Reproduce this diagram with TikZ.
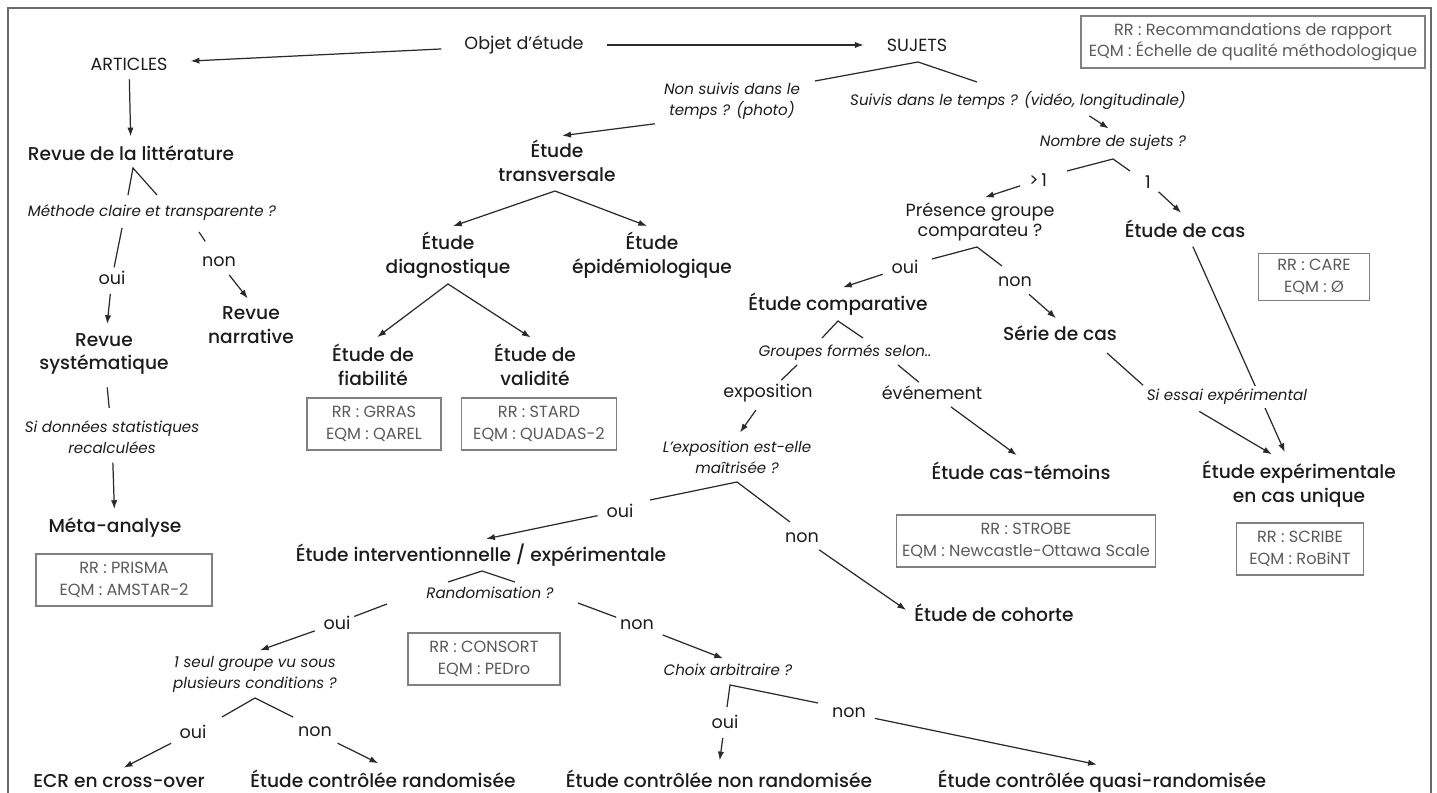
\documentclass[tikz,border=0pt]{standalone}
\usepackage{fontspec}
\setmainfont{Poppins}[BoldFont={Poppins Medium}]
\usetikzlibrary{arrows.meta}

\definecolor{ink}{HTML}{1C1C1C}
\definecolor{wire}{HTML}{2A2A2A}
\definecolor{boxline}{HTML}{808080}
\definecolor{boxtext}{HTML}{5A5A5A}
\definecolor{framegray}{HTML}{6A6A6A}

\tikzset{
  etude/.style={font=\fontsize{10.6}{13.6}\selectfont\bfseries, text=ink, align=center, inner sep=2pt},
  lab/.style={font=\fontsize{10}{11.4}\selectfont, text=ink, align=center, inner sep=2pt},
  quest/.style={font=\fontsize{8.6}{12}\selectfont\itshape, text=ink, align=center, inner sep=2pt},
  rrbox/.style={draw=boxline, line width=0.8pt, text=boxtext, font=\fontsize{9.2}{12.4}\selectfont, align=center, minimum height=1.04cm},
  ln/.style={draw=wire, line width=0.7pt},
  arr/.style={ln, -{Latex[length=5pt,width=3.6pt]}, shorten <=3pt, shorten >=3pt},
  biarr/.style={ln, {Latex[length=5pt,width=3.6pt]}-{Latex[length=5pt,width=3.6pt]}, shorten <=3pt, shorten >=3pt},
  gapln/.style={ln, shorten <=5pt, shorten >=5pt},
}

\begin{document}
\begin{tikzpicture}[x=0.02cm, y=-0.02cm]
  \useasboundingbox (0,0) rectangle (1437,793);
  \draw[framegray, line width=1.3pt] (8,793) -- (8,8) -- (1431,8) -- (1431,793);

  \node[lab, inner xsep=10pt] (obj) at (524,45) {Objet d'étude};
  \node[lab, inner xsep=10pt] (art) at (129,64) {ARTICLES};
  \node[lab, inner xsep=10pt] (suj) at (917,45) {SUJETS};
  \node[rrbox, minimum width=6.88cm] (legend) at (1253,42) {RR : Recommandations de rapport\\EQM : Échelle de qualité méthodologique};

  \node[etude] (lit) at (131,153) {Revue de la littérature};
  \node[quest] (meth) at (152,213) {Méthode claire et transparente ?};
  \node[lab] (oui1) at (112,278) {oui};
  \node[lab] (non1) at (219,262) {non};
  \node[etude] (revsys) at (104,354) {Revue\\systématique};
  \node[etude] (revnar) at (251,325) {Revue\\narrative};
  \node[quest] (sidon) at (112,437) {Si données statistiques\\recalculées};
  \node[etude] (meta) at (115,528) {Méta-analyse};
  \node[rrbox, minimum width=3.52cm] (prisma) at (124,580) {RR : PRISMA\\EQM : AMSTAR-2};

  \node[quest] (nonsuiv) at (732,101) {Non suivis dans le\\temps ? (photo)};
  \node[etude] (transv) at (557,161) {Étude\\transversale};
  \node[etude] (diag) at (448,255) {Étude\\diagnostique};
  \node[etude] (epid) at (652,255) {Étude\\épidémiologique};
  \node[etude] (fiab) at (373,365) {Étude de\\fiabilité};
  \node[etude] (valid) at (535,365) {Étude de\\validité};
  \node[rrbox, minimum width=2.68cm] (grras) at (374,424) {RR : GRRAS\\EQM : QAREL};
  \node[rrbox, minimum width=3.1cm] (stard) at (539,424) {RR : STARD\\EQM : QUADAS-2};

  \node[quest] (suiv) at (1018,100) {Suivis dans le temps ? (vidéo, longitudinale)};
  \node[quest] (nbsuj) at (1113,143) {Nombre de sujets ?};
  \node[lab] (gt1) at (1038,180) {>\,1};
  \node[lab] (eq1) at (1148,182) {1};
  \node[etude] (cas) at (1185,229) {Étude de cas};
  \node[rrbox, minimum width=2.22cm, minimum height=0.9cm] (care) at (1314,277) {RR : CARE\\EQM : Ø};
  \node[lab] (pgc) at (980,222) {Présence groupe\\comparateu ?};
  \node[lab] (oui2) at (905,267) {oui};
  \node[lab] (non2) at (1015,282) {non};
  \node[etude] (comp) at (838,304) {Étude comparative};
  \node[etude] (serie) at (1060,333) {Série de cas};
  \node[quest] (grp) at (845,353) {Groupes formés selon..};
  \node[lab] (expo) at (768,393) {exposition};
  \node[lab] (evt) at (932,393) {événement};
  \node[quest] (expom) at (737,457) {L'exposition est-elle\\maîtrisée ?};
  \node[etude] (castem) at (1021,471) {Étude cas-témoins};
  \node[rrbox, minimum width=5.18cm] (strobe) at (1026,541) {RR : STROBE\\EQM : Newcastle-Ottawa Scale};
  \node[etude] (expcu) at (1299,484) {Étude expérimentale\\en cas unique};
  \node[rrbox, minimum width=2.54cm] (scribe) at (1300,549) {RR : SCRIBE\\EQM : RoBiNT};

  \node[lab] (oui3) at (620,511) {oui};
  \node[lab] (non3) at (802,538) {non};
  \node[etude] (interv) at (481,555) {Étude interventionnelle / expérimentale};
  \node[etude] (cohorte) at (994,613) {Étude de cohorte};
  \node[quest] (rando) at (490,593) {Randomisation ?};
  \node[rrbox, minimum width=3.04cm] (consort) at (484,659) {RR : CONSORT\\EQM : PEDro};
  \node[lab] (oui4) at (337,623) {oui};
  \node[lab] (non4) at (637,625) {non};
  \node[quest] (seul) at (255,674) {1 seul groupe vu sous\\plusieurs conditions ?};
  \node[quest] (choix) at (728,670) {Choix arbitraire ?};
  \node[lab] (oui5) at (193,732) {oui};
  \node[lab] (non5) at (315,732) {non};
  \node[lab] (oui6) at (725,722) {oui};
  \node[lab] (non6) at (849,713) {non};
  \node[etude, anchor=base] (ecr) at (119,787) {ECR en cross-over};
  \node[etude, anchor=base] (ecrand) at (383,787) {Étude contrôlée randomisée};
  \node[etude, anchor=base] (ecnr) at (719,787) {Étude contrôlée non randomisée};
  \node[etude, anchor=base] (ecqr) at (1102,787) {Étude contrôlée quasi-randomisée};

  \coordinate (litL) at (128,195);
  \coordinate (litA) at (133,168);
  \coordinate (litR) at (157,195);
  \coordinate (methL) at (122,228);
  \coordinate (methR) at (199,232);
  \coordinate (sujL) at (815,81);
  \coordinate (sujA) at (918,62);
  \coordinate (sujR) at (977,82);
  \coordinate (transA) at (555,191);
  \coordinate (diagA) at (448,284);
  \coordinate (suivB) at (1085,113);
  \coordinate (nbL) at (1067,171);
  \coordinate (nbA) at (1113,159);
  \coordinate (nbR) at (1130,171);
  \coordinate (pgcL) at (932,259);
  \coordinate (pgcA) at (977,247);
  \coordinate (pgcR) at (1002,266);
  \coordinate (compL) at (822,338);
  \coordinate (compA) at (838,321);
  \coordinate (compR) at (863,338);
  \coordinate (grpL) at (797,365);
  \coordinate (grpR) at (898,365);
  \coordinate (serieB) at (1107,353);
  \coordinate (expomL) at (650,500);
  \coordinate (expomA) at (737,482);
  \coordinate (expomR) at (790,522);
  \coordinate (intL) at (448,582);
  \coordinate (intA) at (482,571);
  \coordinate (intR) at (515,582);
  \coordinate (randoL) at (387,604);
  \coordinate (randoR) at (578,603);
  \coordinate (seulL) at (222,717);
  \coordinate (seulA) at (255,698);
  \coordinate (seulR) at (293,717);
  \coordinate (choixL) at (727,707);
  \coordinate (choixA) at (730,685);
  \coordinate (choixR) at (818,703);

  \draw[arr] (cas) -- (expcu);
  \node[quest, fill=white] (essai) at (1227,397) {Si essai expérimental};

  \draw[arr] (obj) -- (art);
  \draw[arr] (obj) -- (suj);
  \draw[arr] (art) -- (lit);
  \draw[ln] (litL) -- (litA) -- (litR);
  \draw[ln] (methL) -- (oui1);
  \draw[ln, shorten >=8pt] (methR) -- (non1);
  \draw[arr] (oui1) -- (revsys);
  \draw[arr] (non1) -- (revnar.north);
  \draw[gapln] (revsys) -- (sidon);
  \draw[arr] (sidon) -- (meta);

  \draw[ln] (sujL) -- (sujA) -- (sujR);
  \draw[arr] (nonsuiv.south west) -- (transv.north);
  \draw[biarr] (diag.north) -- (transA) -- (epid.north);
  \draw[biarr] (fiab.north) -- (diagA) -- (valid.north);

  \draw[arr] (suivB) -- (nbsuj.north);
  \draw[ln] (nbL) -- (nbA) -- (nbR);
  \draw[arr] (gt1) -- (pgc.north);
  \draw[arr] (eq1) -- (cas.north);
  \draw[ln] (pgcL) -- (pgcA) -- (pgcR);
  \draw[arr] (oui2) -- (comp.north);
  \draw[arr] (non2) -- (serie.north);
  \draw[ln] (compL) -- (compA) -- (compR);
  \draw[ln] (grpL) -- (expo);
  \draw[ln] (grpR) -- (evt);
  \draw[arr] (expo) -- (expom.north);
  \draw[arr] (evt) -- (castem.north);
  \draw[ln] (serieB) -- (essai.north west);
  \draw[arr] (essai.200) -- (expcu.130);

  \draw[ln] (expomL) -- (expomA) -- (expomR);
  \draw[arr] (oui3) -- (interv.north);
  \draw[arr] (non3) -- (cohorte.west);
  \draw[ln] (intL) -- (intA) -- (intR);
  \draw[ln] (randoL) -- (oui4);
  \draw[ln] (randoR) -- (non4);
  \draw[arr] (oui4) -- (seul.north);
  \draw[arr] (non4) -- (choix.north);
  \draw[ln] (seulL) -- (seulA) -- (seulR);
  \draw[arr] (oui5) -- (ecr.north);
  \draw[arr] (non5) -- (ecrand.north);
  \draw[ln] (choixL) -- (choixA) -- (choixR);
  \draw[arr] (oui6) -- (ecnr.north);
  \draw[arr] (non6) -- (ecqr.north);
\end{tikzpicture}
\end{document}
